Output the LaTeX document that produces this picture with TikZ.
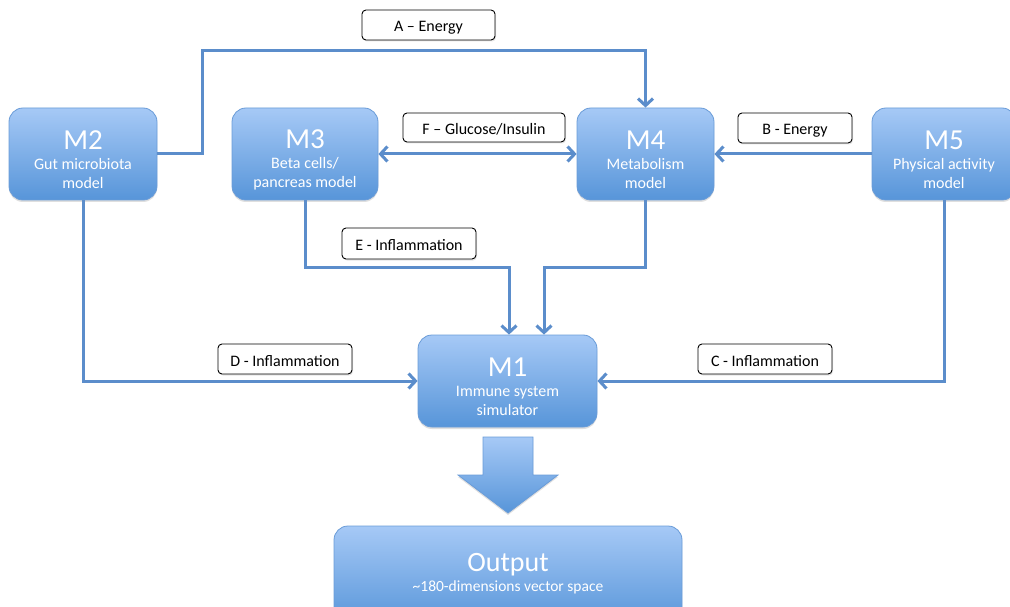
\documentclass[tikz,border=0pt]{standalone}
\usepackage{fontspec}
\setmainfont{Carlito}
\usetikzlibrary{arrows.meta,shadows}

\definecolor{lineblue}{HTML}{5B8DCB}
\definecolor{boxtop}{HTML}{A6C9F6}
\definecolor{boxbot}{HTML}{5795D9}
\definecolor{boxedge}{HTML}{6A9CD8}
\newcommand\mtitle[1]{{\fontsize{29}{29}\selectfont\rule{0pt}{30pt}#1}}

\begin{document}
\begin{tikzpicture}[x=1pt,y=-1pt,
  model/.style={draw=boxedge, line width=0.8pt, rounded corners=14pt,
    top color=boxtop, bottom color=boxbot, text=white, align=center,
    font=\fontsize{16}{19}\selectfont, inner sep=0pt,
    drop shadow={opacity=0.25, shadow xshift=0pt, shadow yshift=-2pt}},
  tag/.style={draw=black, line width=0.9pt, fill=white, rounded corners=4pt,
    font=\fontsize{16}{18}\selectfont, inner sep=0pt, text height=15pt, text depth=1pt,
    drop shadow={opacity=0.2, shadow xshift=1pt, shadow yshift=-1.5pt}},
  link/.style={draw=lineblue, line width=3pt},
  tip/.style={-{Straight Barb[length=7pt,width=15pt]}},
  twotip/.style={{Straight Barb[length=7pt,width=15pt]}-{Straight Barb[length=7pt,width=15pt]}}
]
\path[fill=white] (0,0) rectangle (1010,607);
\useasboundingbox (0,0) rectangle (1010,607);

% model boxes
\node[model, minimum width=148pt, minimum height=92pt] (m2) at (83,154)
  {\mtitle{M2}\\[1pt]Gut microbiota\\model};
\node[model, minimum width=146pt, minimum height=92pt] (m3) at (305,154)
  {\mtitle{M3}\\[1pt]Beta cells/\\pancreas model};
\node[model, minimum width=137pt, minimum height=92pt] (m4) at (645.5,154)
  {\mtitle{M4}\\[1pt]Metabolism\\model};
\node[model, minimum width=144pt, minimum height=92pt] (m5) at (944,154)
  {\mtitle{M5}\\[1pt]Physical activity\\model};
\node[model, minimum width=179pt, minimum height=92pt] (m1) at (507.5,381)
  {\mtitle{M1}\\[1pt]Immune system\\simulator};
\node[model, minimum width=348pt, minimum height=100pt] (out) at (508,576)
  {{\fontsize{28}{28}\selectfont\rule{0pt}{30pt}Output}\\[1pt]\fontsize{15.5}{18}\selectfont \textasciitilde180-dimensions vector space\\\rule{0pt}{14pt}};

% big arrow
\path[draw=boxedge, line width=0.8pt, top color=boxtop, bottom color=boxbot,
  drop shadow={opacity=0.25, shadow xshift=0pt, shadow yshift=-2pt}]
  (483,437) -- (533,437) -- (533,475) -- (558,475) -- (508,513) -- (458,475) -- (483,475) -- cycle;

% tags
\node[tag, minimum width=133pt, minimum height=30pt] (ta) at (428.5,25) {A – Energy};
\node[tag, minimum width=162pt, minimum height=29pt] (tf) at (484,127.5) {F – Glucose/Insulin};
\node[tag, minimum width=134pt, minimum height=31pt] (te) at (409,243.5) {E - Inflammation};
\node[tag, minimum width=114pt, minimum height=30pt] (tb) at (795,128) {B - Energy};
\node[tag, minimum width=134pt, minimum height=30pt] (td) at (285,359) {D - Inflammation};
\node[tag, minimum width=134pt, minimum height=30pt] (tc) at (765,359) {C - Inflammation};

% connectors
\coordinate (a1) at (202,51);
\coordinate (e1) at (509,267);
\coordinate (g1) at (544,267);
\draw[link,tip] (m2.east) -| (a1) -| (m4.north);
\draw[link,twotip] (m3.east) -- (m4.west);
\draw[link,tip] (m5.west) -- (m4.east);
\draw[link,tip] (m3.south) |- (e1) -- (e1 |- m1.north);
\draw[link,tip] (m4.south) |- (g1) -- (g1 |- m1.north);
\draw[link,tip] (m2.south) |- (m1.west);
\draw[link,tip] (m5.south) |- (m1.east);
\end{tikzpicture}
\end{document}
